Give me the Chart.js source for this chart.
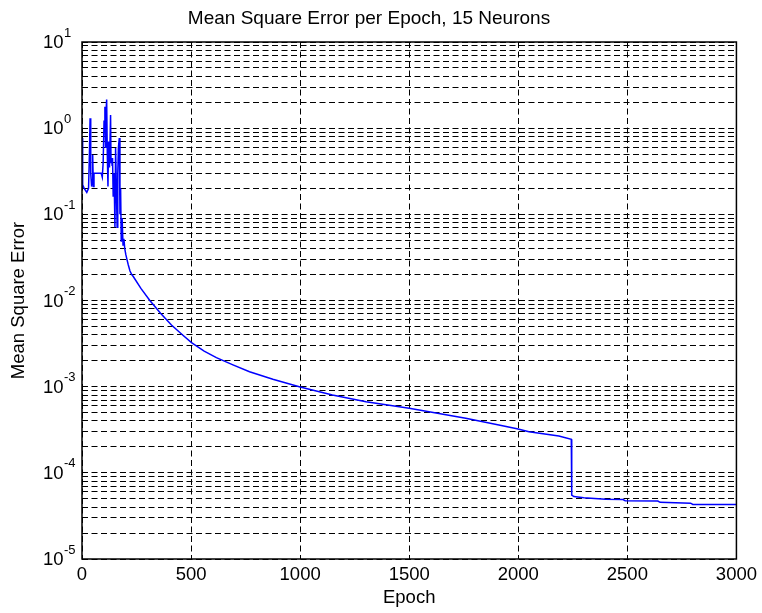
<!DOCTYPE html>
<html>
<head>
<meta charset="utf-8">
<title>Mean Square Error per Epoch, 15 Neurons</title>
<script src="https://cdn.jsdelivr.net/npm/chart.js@4.4.1/dist/chart.umd.min.js"></script>
<style>
    body { margin: 0; background: #fff; }
    canvas { display: block; background: #fff; }
</style>
</head>
<body>
<canvas id="mseChart" width="762" height="613"></canvas>
<script>
// values
const epochs = [
    0, 2, 4, 10, 22, 30, 34, 37, 40, 44, 47, 49, 52, 55, 70, 88, 93, 97, 101, 105, 108,
    110, 113, 116, 119, 122, 126, 131, 133, 136, 138, 140, 143, 147, 151, 154, 157, 161, 164, 167, 171,
    174, 177, 180, 184, 188, 192, 196, 201, 206, 212, 220, 228, 235, 270, 311, 360, 410, 460, 502,
    560, 616, 692, 768, 875, 1000, 1148, 1302, 1500, 1759, 1911, 1994, 2049, 2186, 2243, 2245, 2255, 2300, 2400, 2480,
    2490, 2640, 2650, 2790, 2800, 3000
];
const mseValues = [
    0.77, 0.77, 0.22, 0.2, 0.18, 0.2, 0.5, 1.3, 0.3, 0.21, 0.25, 0.49, 0.21, 0.3, 0.3, 0.3, 0.27, 0.4, 1.2, 1.77, 0.6,
    1.5, 2.15, 0.5, 0.21, 0.7, 0.35, 1.42, 0.4, 0.45, 0.37, 0.45, 0.16, 0.3, 0.071, 0.59, 0.25, 0.071, 0.3, 0.6, 0.77,
    0.1, 0.2, 0.048, 0.09, 0.044, 0.052, 0.04, 0.034, 0.03, 0.026, 0.022, 0.02, 0.019, 0.0138, 0.01, 0.0071, 0.0052, 0.004, 0.00324,
    0.00259, 0.00217, 0.00179, 0.00149, 0.00122, 0.00099, 0.0008, 0.00067, 0.000561, 0.00043, 0.000359, 0.000325, 0.0003, 0.000268, 0.000245, 0.0000553, 0.000053, 0.0000515, 0.0000495, 0.000049,
    0.0000475, 0.000047, 0.0000455, 0.0000445, 0.000043, 0.000043
];

const xTicks = [0, 500, 1000, 1500, 2000, 2500, 3000];
const yDecades = [-5, -4, -3, -2, -1, 0, 1];
const yMinorSteps = [1, 2, 3, 4, 5, 6, 7, 8, 9];

const fontFamily = "'Liberation Sans', Arial, Helvetica, sans-serif";

// log grid: 1..9 x 10^k plus the top decade
let yGridValues = [];
yDecades.slice(0, -1).forEach(e => {
    yMinorSteps.forEach(s => yGridValues.push(s * Math.pow(10, e)));
});
yGridValues.push(Math.pow(10, yDecades[yDecades.length - 1]));

const yLabels = {
    id: "yLabels",
    afterDraw(chart) {
        const ctx = chart.ctx;
        const yScale = chart.scales.y;
        ctx.save();
        ctx.fillStyle = "#000";
        yDecades.forEach(e => {
            const y = yScale.getPixelForValue(Math.pow(10, e));
            ctx.font = "18.5px " + fontFamily;
            ctx.textAlign = "right";
            ctx.textBaseline = "middle";
            ctx.fillText("10", 63.5, y + 1);
            ctx.font = "13px " + fontFamily;
            ctx.textAlign = "left";
            ctx.fillText(String(e), 64, y - 9);
        });
        ctx.restore();
    }
};

const plotBox = {
    id: "plotBox",
    afterDraw(chart) {
        const a = chart.chartArea;
        const ctx = chart.ctx;
        ctx.save();
        ctx.strokeStyle = "#000";
        ctx.lineWidth = 1.5;
        ctx.setLineDash([]);
        ctx.strokeRect(a.left, a.top, a.right - a.left, a.bottom - a.top);
        ctx.restore();
    }
};

Chart.defaults.color = "#000";
Chart.defaults.font.family = fontFamily;

const ctxMse = document.getElementById("mseChart");
new Chart(ctxMse, {
    type: "line",
    data: {
        datasets: [{
            label: "MSE",
            data: epochs.map((e, i) => ({ x: e, y: mseValues[i] })),
            borderColor: "#0000ff",
            backgroundColor: "#0000ff",
            borderWidth: 1.5,
            pointRadius: 0,
            tension: 0,
            fill: false
        }]
    },
    options: {
        responsive: false,
        animation: false,
        devicePixelRatio: 1,
        layout: { padding: { left: 0, right: 24, top: 0, bottom: 0 } },
        plugins: {
            legend: { display: false },
            tooltip: { enabled: false },
            title: {
                display: true,
                text: "Mean Square Error per Epoch, 15 Neurons",
                font: { size: 19, weight: "normal" },
                padding: { top: 7, bottom: 12.2 }
            }
        },
        scales: {
            x: {
                type: "linear",
                min: 0,
                max: 3000,
                afterBuildTicks: s => { s.ticks = xTicks.map(v => ({ value: v })); },
                afterFit: s => { s.height = 54; },
                ticks: {
                    font: { size: 18.5 },
                    padding: 5,
                    autoSkip: false,
                    maxRotation: 0,
                    callback: v => String(v)
                },
                grid: { color: "#000", lineWidth: 1, drawTicks: false },
                border: { display: false, dash: [6, 3.5] },
                title: { display: true, text: "Epoch", font: { size: 18.5 }, padding: { top: 0, bottom: 4 } }
            },
            y: {
                type: "logarithmic",
                min: 1e-5,
                max: 10,
                afterBuildTicks: s => { s.ticks = yGridValues.map(v => ({ value: v })); },
                afterFit: s => { s.width = 82; },
                ticks: { display: false },
                grid: { color: "#000", lineWidth: 1, drawTicks: false },
                border: { display: false, dash: [6, 3.5] },
                title: { display: true, text: "Mean Square Error", font: { size: 18.5 }, padding: { top: 8, bottom: 0 } }
            }
        }
    },
    plugins: [yLabels, plotBox]
});
</script>
</body>
</html>
